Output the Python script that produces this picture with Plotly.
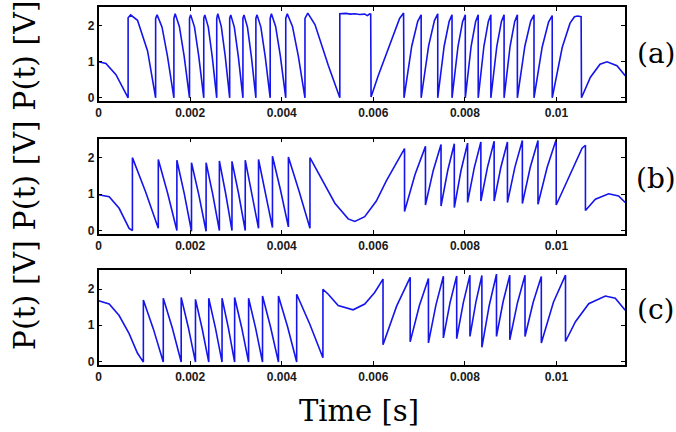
import plotly.graph_objects as go

# ---- data (time [s], P(t) [V]) ----
PANEL_A = [
    (0, 1.0), (0.00016, 0.95), (0.00038, 0.64), (0.00056, 0.23), (0.000645, 0.0),
    (0.000645, 2.22), (0.00070, 2.30), (0.00085, 2.15), (0.00107, 1.30), (0.001246, 0.0),
    (0.001246, 2.2), (0.001278, 2.30), (0.001386, 1.96), (0.001505, 1.15), (0.001645, 0.0),
    (0.001645, 2.2), (0.001672, 2.33), (0.001764, 1.98), (0.001867, 1.17), (0.001986, 0.0),
    (0.001986, 2.2), (0.002011, 2.30), (0.002095, 1.96), (0.002188, 1.15), (0.002297, 0.0),
    (0.002297, 2.2), (0.00232, 2.30), (0.002396, 1.96), (0.002481, 1.15), (0.00258, 0.0),
    (0.00258, 2.2), (0.002603, 2.33), (0.002679, 1.98), (0.002764, 1.17), (0.002863, 0.0),
    (0.002863, 2.2), (0.002886, 2.30), (0.002964, 1.96), (0.003051, 1.15), (0.003152, 0.0),
    (0.003152, 2.2), (0.003175, 2.30), (0.003251, 1.96), (0.003336, 1.15), (0.003435, 0.0),
    (0.003435, 2.2), (0.00346, 2.30), (0.003544, 1.96), (0.003638, 1.15), (0.003747, 0.0),
    (0.003747, 2.2), (0.003774, 2.33), (0.003866, 1.98), (0.003968, 1.17), (0.004087, 0.0),
    (0.004087, 2.2), (0.00412, 2.33), (0.004234, 1.98), (0.00436, 1.17), (0.004507, 0.0),
    (0.004507, 2.2), (0.004568, 2.35), (0.004725, 2.03), (0.005015, 0.90), (0.005268, 0.0),
    (0.005268, 2.33), (0.0054, 2.34), (0.0055, 2.32), (0.0056, 2.33), (0.0057, 2.31),
    (0.00581, 2.32), (0.00587, 2.28), (0.00592, 2.33), (0.005942, 2.32), (0.00595, 0.02),
    (0.006102, 0.60), (0.006392, 1.60), (0.006573, 2.20), (0.00666, 2.35), (0.00667, 0.0),
    (0.006838, 1.43), (0.006969, 2.12), (0.007044, 2.30), (0.007044, 0.0),
    (0.007207, 1.44), (0.007334, 2.14), (0.007406, 2.33), (0.007406, 0.0),
    (0.007546, 1.43), (0.007656, 2.12), (0.007718, 2.30), (0.007718, 0.0),
    (0.007849, 1.43), (0.00795, 2.12), (0.008008, 2.30), (0.008008, 0.0),
    (0.008135, 1.43), (0.008234, 2.12), (0.00829, 2.30), (0.00829, 0.0),
    (0.008414, 1.43), (0.008511, 2.12), (0.008566, 2.30), (0.008566, 0.0),
    (0.008696, 1.43), (0.008797, 2.12), (0.008855, 2.30), (0.008855, 0.0),
    (0.008986, 1.43), (0.009087, 2.12), (0.009145, 2.30), (0.009145, 0.0),
    (0.009308, 1.43), (0.009435, 2.12), (0.009508, 2.30), (0.009508, 0.0),
    (0.009687, 1.41), (0.009826, 2.10), (0.009906, 2.28), (0.009906, 0.0),
    (0.010125, 1.40), (0.010295, 2.07), (0.010392, 2.25), (0.01046, 2.27), (0.010537, 2.25),
    (0.010545, 0.0), (0.01074, 0.57), (0.01095, 0.93), (0.011102, 1.0), (0.01132, 0.89),
    (0.0115, 0.61),
]

PANEL_B = [
    (0, 0.98), (0.000232, 0.93), (0.000449, 0.61), (0.000667, 0.06), (0.000739, 0.0),
    (0.000739, 2.0), (0.001022, 1.08), (0.001304, 0.06),
    (0.001304, 1.95), (0.001507, 1.03), (0.00171, 0.0),
    (0.00171, 1.93), (0.00187, 1.02), (0.002029, -0.02),
    (0.002029, 1.86), (0.002189, 0.98), (0.002348, -0.02),
    (0.002348, 1.86), (0.002493, 0.99), (0.002638, 0.0),
    (0.002638, 1.91), (0.002776, 1.01), (0.002913, 0.0),
    (0.002913, 1.90), (0.003058, 1.01), (0.003203, 0.0),
    (0.003203, 1.93), (0.003348, 1.04), (0.003493, 0.06),
    (0.003493, 1.95), (0.003645, 1.06), (0.003797, 0.08),
    (0.003797, 2.04), (0.003971, 1.12), (0.004145, 0.10),
    (0.004145, 2.02), (0.00438, 1.07), (0.004616, 0.06),
    (0.004616, 2.0), (0.00487, 1.43), (0.00516, 0.75), (0.00545, 0.32), (0.005595, 0.25),
    (0.005812, 0.38), (0.006065, 0.81), (0.006283, 1.36), (0.0065, 1.86), (0.006681, 2.25),
    (0.006681, 0.52), (0.00691, 1.54), (0.007138, 2.31),
    (0.007138, 0.70), (0.007308, 1.65), (0.007478, 2.36),
    (0.007478, 0.67), (0.007623, 1.64), (0.007768, 2.38),
    (0.007768, 0.63), (0.007913, 1.64), (0.008058, 2.40),
    (0.008058, 0.77), (0.008203, 1.72), (0.008348, 2.43),
    (0.008348, 0.81), (0.008493, 1.74), (0.008638, 2.45),
    (0.008638, 0.81), (0.008783, 1.73), (0.008928, 2.43),
    (0.008928, 0.77), (0.009091, 1.74), (0.009254, 2.47),
    (0.009254, 0.74), (0.009425, 1.73), (0.009595, 2.47),
    (0.009595, 0.72), (0.009794, 1.73), (0.009993, 2.50),
    (0.009993, 0.70), (0.010196, 1.26), (0.010413, 1.90), (0.010558, 2.26), (0.010631, 2.34),
    (0.010631, 0.55), (0.010848, 0.86), (0.011138, 1.01), (0.011355, 0.95), (0.0115, 0.77),
]

PANEL_C = [
    (0, 1.68), (0.000232, 1.59), (0.000449, 1.27), (0.000667, 0.77), (0.000848, 0.23), (0.000978, -0.02),
    (0.000978, 1.70), (0.001196, 0.90), (0.001413, -0.02),
    (0.001413, 1.75), (0.001609, 0.93), (0.001804, -0.02),
    (0.001804, 1.77), (0.00196, 0.94), (0.002116, -0.02),
    (0.002116, 1.72), (0.002261, 0.91), (0.002406, -0.02),
    (0.002406, 1.75), (0.002551, 0.93), (0.002696, -0.02),
    (0.002696, 1.75), (0.002834, 0.93), (0.002971, -0.02),
    (0.002971, 1.77), (0.003124, 0.94), (0.003276, -0.02),
    (0.003276, 1.75), (0.003428, 0.93), (0.00358, -0.02),
    (0.00358, 1.81), (0.003754, 0.96), (0.003928, -0.02),
    (0.003928, 1.81), (0.004127, 0.96), (0.004326, -0.02),
    (0.004326, 1.86), (0.004613, 1.03), (0.004899, 0.10),
    (0.004899, 2.0), (0.005015, 1.86), (0.005232, 1.55), (0.005558, 1.43), (0.005812, 1.59),
    (0.006029, 1.91), (0.006211, 2.28),
    (0.006211, 0.46), (0.006508, 1.53), (0.006804, 2.33),
    (0.006804, 0.54), (0.007004, 1.54), (0.007203, 2.30),
    (0.007203, 0.51), (0.007366, 1.56), (0.007529, 2.36),
    (0.007529, 0.65), (0.007675, 1.63), (0.00782, 2.37),
    (0.00782, 0.63), (0.007965, 1.63), (0.008109, 2.39),
    (0.008109, 0.69), (0.00824, 1.65), (0.00837, 2.38),
    (0.00837, 0.39), (0.00853, 1.55), (0.008689, 2.42),
    (0.008689, 0.69), (0.008834, 1.66), (0.008979, 2.39),
    (0.008979, 0.60), (0.009146, 1.62), (0.009312, 2.39),
    (0.009312, 0.69), (0.00949, 1.64), (0.009668, 2.35),
    (0.009668, 0.51), (0.009932, 1.64), (0.010196, 2.39),
    (0.010196, 0.55), (0.010413, 1.10), (0.010703, 1.60), (0.011066, 1.81), (0.011283, 1.75),
    (0.0115, 1.42),
]

X_TICKS = [0, 0.002, 0.004, 0.006, 0.008, 0.01]
X_TICK_TEXT = ["0", "0.002", "0.004", "0.006", "0.008", "0.01"]
Y_TICKS = [0, 1, 2]
PANEL_LABELS = ["(a)", "(b)", "(c)"]
Y_TITLE = "P(t) [V] P(t) [V] P(t) [V]"
X_TITLE = "Time [s]"

# ---- layout geometry (pixels in a 676x432 page) ----
W, H = 676, 432
X_LEFT, X_RIGHT = 96, 625
PANEL_PX = [(7, 102), (140, 236), (273, 368)]  # (top, bottom)
LABEL_Y = [54.5, 180, 312]

fig = go.Figure()
panels = [PANEL_A, PANEL_B, PANEL_C]
tick_font = dict(family="Liberation Sans", size=12, color="#1a1a1a", weight="bold")

for i, data in enumerate(panels):
    n = "" if i == 0 else str(i + 1)
    t = [p[0] for p in data]
    v = [p[1] for p in data]
    fig.add_trace(go.Scatter(
        x=t, y=v, mode="lines", xaxis="x" + n, yaxis="y" + n,
        line=dict(color="rgb(20,20,235)", width=1.6), showlegend=False,
        hoverinfo="skip",
    ))
    top, bot = PANEL_PX[i]
    common = dict(showline=True, linecolor="black", linewidth=1.5, mirror="ticks",
                  ticks="inside", ticklen=4, tickwidth=1, tickcolor="black",
                  showgrid=False, zeroline=False, tickfont=tick_font)
    fig.update_layout(**{
        "xaxis" + n: dict(domain=[X_LEFT / W, X_RIGHT / W], anchor="y" + n,
                          range=[0, 0.0115], tickmode="array", tickvals=X_TICKS,
                          ticktext=X_TICK_TEXT, **common),
        "yaxis" + n: dict(domain=[1 - bot / H, 1 - top / H], anchor="x" + n,
                          range=[-0.09, 2.52], tickmode="array", tickvals=Y_TICKS,
                          ticktext=[str(k) for k in Y_TICKS], **common),
    })

serif = "DejaVu Serif"
ann = [
    dict(text=Y_TITLE, x=21 / W, y=1 - 177 / H, textangle=-90,
         font=dict(family=serif, size=30, color="black")),
    dict(text=X_TITLE, x=357.5 / W, y=1 - 415 / H,
         font=dict(family=serif, size=29, color="black")),
]
for lab, ly in zip(PANEL_LABELS, LABEL_Y):
    ann.append(dict(text=lab, x=656 / W, y=1 - ly / H,
                    font=dict(family=serif, size=28, color="black")))
for a in ann:
    a.update(xref="paper", yref="paper", xanchor="center", yanchor="middle",
             showarrow=False)

fig.update_layout(width=W, height=H, margin=dict(l=0, r=0, t=0, b=0),
                  paper_bgcolor="white", plot_bgcolor="white", annotations=ann)

fig.write_html("out.html")
